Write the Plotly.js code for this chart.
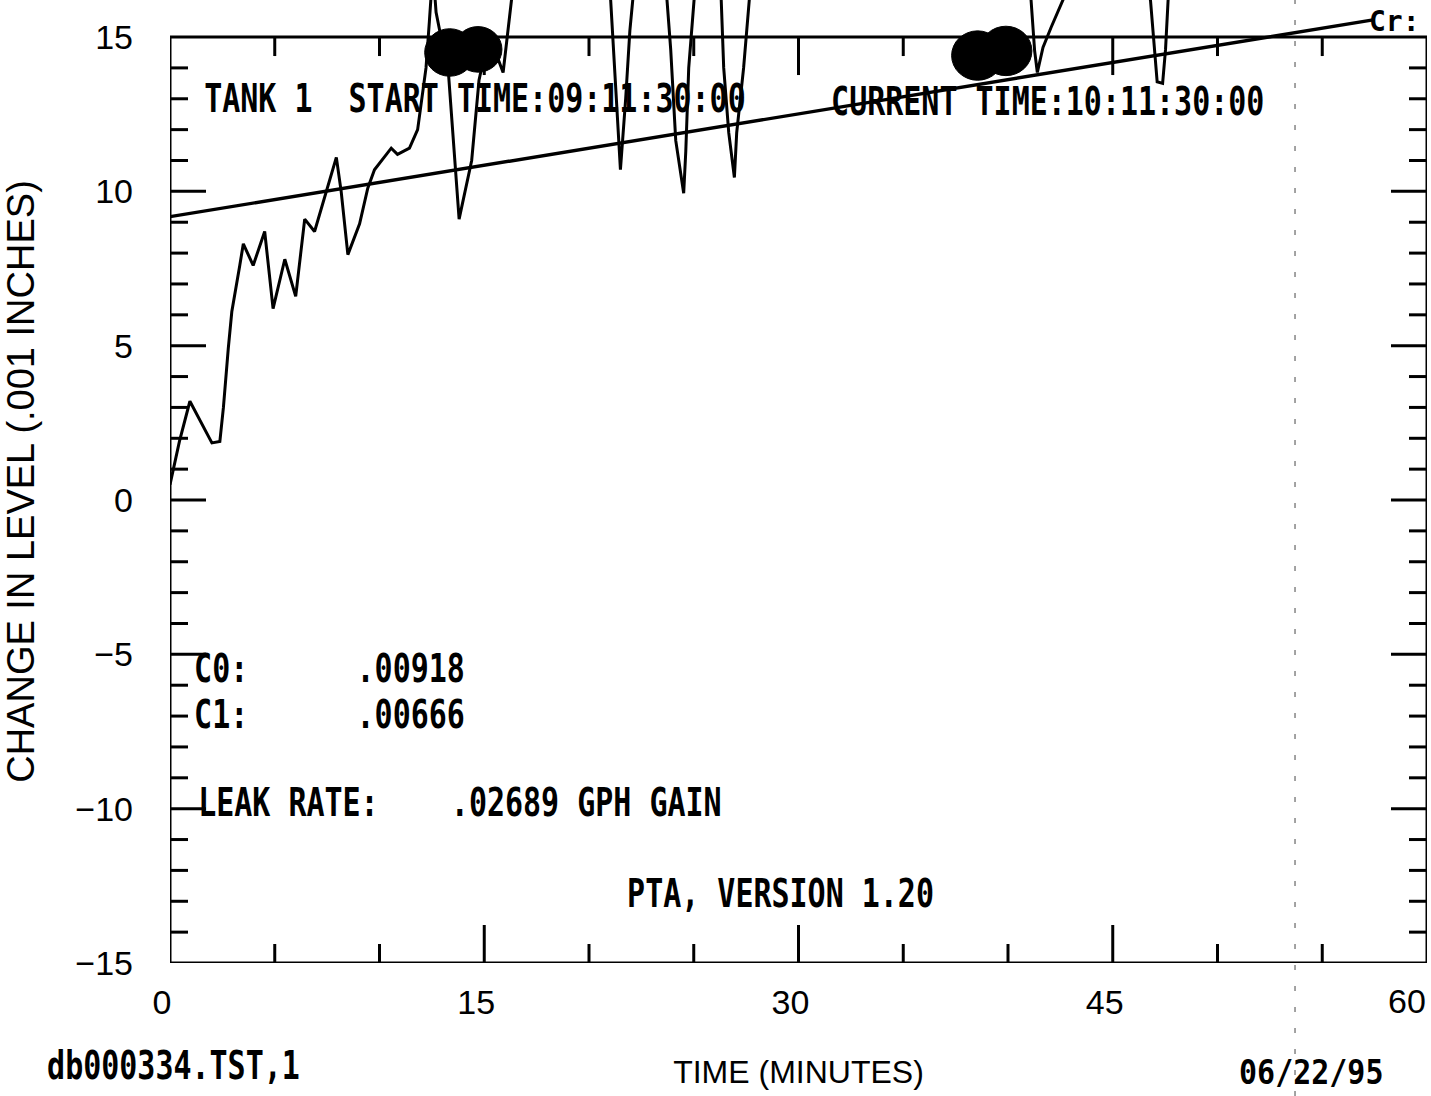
<!DOCTYPE html>
<html>
<head>
<meta charset="utf-8">
<script src="https://cdn.plot.ly/plotly-3.0.1.min.js"></script>
<style>
  html, body { margin: 0; padding: 0; background: #fff; }
  #chart { width: 1431px; height: 1096px; }
</style>
</head>
<body>
<div id="chart"></div>
<script>
// ---------------- data ----------------
// time in minutes, change in level in .001 inches; values above ~16 are off the printed sheet (estimated)
var timeMin = [0, 0.45, 0.95, 1.5, 2.0, 2.38, 2.55, 2.78, 2.95, 3.33, 3.5, 3.97, 4.52, 4.92, 5.48, 6.0, 6.43, 6.9, 7.38, 7.94,
  8.17, 8.49, 9.05, 9.44, 9.76, 10.56, 10.86, 11.43, 11.82, 12.22, 12.38, 12.55, 12.7, 13.3, 13.8, 14.4, 14.75, 15.1, 15.6, 15.9,
  16.3, 16.8, 18.5, 20.3, 21.0, 21.3, 21.5, 21.75, 21.95, 22.2, 23.0, 23.7, 23.9, 24.14, 24.52, 24.62, 24.76, 25.05, 25.6, 26.3,
  26.43, 26.67, 26.94, 27.05, 27.38, 27.7, 29.5, 32.0, 35.0, 38.0, 40.5, 41.1, 41.27, 41.4, 41.67, 42.05, 42.75, 44.0, 46.0, 46.8,
  46.98, 47.12, 47.38, 47.52, 47.65, 49.0, 52.0, 55.0, 58.0, 60.0];
var levelChange = [0.5, 1.9, 3.2, 2.5, 1.85, 1.9, 3.0, 4.9, 6.1, 7.6, 8.3, 7.6, 8.7, 6.2, 7.8, 6.6, 9.1, 8.7, 9.8, 11.1,
  10.0, 7.95, 8.95, 10.1, 10.7, 11.4, 11.2, 11.4, 12.0, 14.0, 15.5, 17.2, 15.8, 13.75, 9.1, 11.0, 13.6, 14.7, 14.4, 13.85,
  16.2, 18.0, 18.6, 18.2, 16.6, 13.0, 10.7, 13.0, 15.2, 17.0, 18.3, 16.4, 14.6, 11.65, 9.94, 11.3, 14.0, 16.5, 17.6, 16.4,
  14.0, 11.9, 10.45, 11.9, 14.0, 16.6, 18.4, 19.0, 18.7, 19.2, 17.8, 16.2, 14.56, 13.85, 14.66, 15.3, 16.4, 17.6, 17.2, 16.2,
  14.56, 13.55, 13.5, 14.6, 16.3, 18.0, 18.8, 18.5, 19.0, 18.7];

// least-squares fit printed on the sheet: C0 = .00918 in, C1 = .00666 in/hr
var C0 = 9.18;          // .001 inches
var C1perHour = 6.66;   // .001 inches per hour
var fitTime = [0, 57.5];
var fitLevel = fitTime.map(function (t) { return C0 + C1perHour * t / 60; });

// axis ticks
var xMajorTicks = [0, 15, 30, 45, 60];
var xMinorTicks = [5, 10, 20, 25, 35, 40, 50, 55];
var yMajorTicks = [-15, -10, -5, 0, 5, 10, 15];
var yMinorTicks = [-14, -13, -12, -11, -9, -8, -7, -6, -4, -3, -2, -1, 1, 2, 3, 4, 6, 7, 8, 9, 11, 12, 13, 14];

// printed text lines
var headerLeft = "TANK 1  START TIME:09:11:30:00";
var headerRight = "CURRENT TIME:10:11:30:00";
var coefLine0 = "C0:      .00918";
var coefLine1 = "C1:      .00666";
var leakLine = "LEAK RATE:    .02689 GPH GAIN";
var versionLine = "PTA, VERSION 1.20";
var fileLine = "db000334.TST,1";
var dateLine = "06/22/95";
var cornerLine = "Cr:";

// ---------------- layout helpers ----------------
var W = 1431, H = 1096;
var M = { l: 170, r: 4, t: 0, b: 133 };
var PW = W - M.l - M.r, PH = H - M.t - M.b;
function px2paperX(px) { return (px - M.l) / PW; }
function px2paperY(py) { return (H - M.b - py) / PH; }
function keepSpaces(s) { return s.replace(/ /g, "\u00A0"); }

var monoFont = { family: "DejaVu Sans Mono, Liberation Mono, monospace", size: 30, color: "#000", weight: "bold" };
var axisFont = { family: "Liberation Sans, Arial, sans-serif", size: 34, color: "#000" };

var annotations = [];
var stretchFactors = [];
function addText(txt, pxLeft, pyMid, size, stretch) {
  var f = Object.assign({}, monoFont);
  if (size) f.size = size;
  annotations.push({
    text: keepSpaces(txt), xref: "paper", yref: "paper",
    x: px2paperX(pxLeft), y: px2paperY(pyMid),
    xanchor: "left", yanchor: "middle", showarrow: false,
    font: f, borderpad: 0
  });
  stretchFactors.push(stretch === undefined ? 1.28 : stretch);
}
addText(headerLeft, 203, 98);
addText(headerRight, 830, 101);
addText(coefLine0, 193, 668);
addText(coefLine1, 193, 714);
addText(leakLine, 197, 802);
addText(versionLine, 626, 893);
addText(fileLine, 46, 1065);
addText(dateLine, 1238, 1071, 30, 1.15);
addText(cornerLine, 1368, 21, 28, 1);

// last x tick label sits against the right edge of the sheet
var lastXTick = xMajorTicks[xMajorTicks.length - 1];
annotations.push({
  text: String(lastXTick), xref: "x", yref: "y", x: lastXTick, y: -15, yshift: -38,
  xanchor: "right", yanchor: "middle", showarrow: false, font: axisFont, borderpad: 0
});
stretchFactors.push(1);

// ---------------- shapes: frame and tick marks ----------------
var shapes = [];
var lw = 3;
shapes.push({ type: "rect", xref: "x", yref: "y", x0: 0, x1: 60, y0: -15, y1: 15,
  line: { color: "#000", width: lw }, fillcolor: "rgba(0,0,0,0)", layer: "above" });

function yTick(v, len) {
  shapes.push({ type: "line", xref: "x", yref: "y", xsizemode: "pixel", xanchor: 0, x0: 0, x1: len, y0: v, y1: v,
    line: { color: "#000", width: lw } });
  shapes.push({ type: "line", xref: "x", yref: "y", xsizemode: "pixel", xanchor: 60, x0: -len, x1: 0, y0: v, y1: v,
    line: { color: "#000", width: lw } });
}
function xTick(v, len) {
  shapes.push({ type: "line", xref: "x", yref: "y", ysizemode: "pixel", yanchor: -15, y0: 0, y1: len, x0: v, x1: v,
    line: { color: "#000", width: lw } });
  shapes.push({ type: "line", xref: "x", yref: "y", ysizemode: "pixel", yanchor: 15, y0: 0, y1: -len, x0: v, x1: v,
    line: { color: "#000", width: lw } });
}
yMajorTicks.forEach(function (v) { if (v > -15 && v < 15) yTick(v, 36); });
yMinorTicks.forEach(function (v) { yTick(v, 18); });
xMajorTicks.forEach(function (v) { if (v > 0 && v < 60) xTick(v, 38); });
xMinorTicks.forEach(function (v) { xTick(v, 19); });

// ink blots on the scanned sheet (centre in data units, radius in px)
var blotCentresX = [13.35, 14.7, 38.55, 39.9];
var blotCentresY = [14.5, 14.6, 14.4, 14.55];
var blotRadiusPx = [25, 24, 26, 26];
blotCentresX.forEach(function (cx, i) {
  var r = blotRadiusPx[i];
  shapes.push({ type: "circle", xref: "x", yref: "y", xsizemode: "pixel", ysizemode: "pixel",
    xanchor: cx, yanchor: blotCentresY[i], x0: -r, x1: r, y0: -r * 0.95, y1: r * 0.95,
    fillcolor: "#000", line: { color: "#000", width: 1 }, layer: "above" });
});
// faint dashed fold line on the scan
var foldLineX = 53.7;
shapes.push({ type: "line", xref: "x", yref: "paper", x0: foldLineX, x1: foldLineX, y0: px2paperY(H), y1: 1,
  line: { color: "#666", width: 1.2, dash: "5px,16px" }, layer: "below" });

// ---------------- traces ----------------
var traces = [
  { x: timeMin, y: levelChange, type: "scatter", mode: "lines", line: { color: "#000", width: 3 },
    hoverinfo: "skip", showlegend: false },
  { x: fitTime, y: fitLevel, type: "scatter", mode: "lines", line: { color: "#000", width: 3.4 },
    hoverinfo: "skip", showlegend: false }
];

var layout = {
  width: W, height: H,
  margin: M,
  paper_bgcolor: "#fff", plot_bgcolor: "#fff",
  showlegend: false,
  xaxis: {
    range: [0, 60], tickmode: "array", tickvals: xMajorTicks,
    ticktext: xMajorTicks.map(function (v) { return v === lastXTick ? "" : String(v); }),
    ticks: "", showgrid: false, zeroline: false,
    showline: false, tickfont: axisFont, ticklabelstandoff: 16, ticklabelshift: -8,
    automargin: false,
    title: { text: "TIME (MINUTES)", font: { family: "Liberation Sans, Arial, sans-serif", size: 32, color: "#000" }, standoff: 40 }
  },
  yaxis: {
    range: [-15, 16.2], tickmode: "array", tickvals: yMajorTicks, ticks: "", showgrid: false, zeroline: false,
    showline: false, tickfont: axisFont, ticklabelstandoff: 36, automargin: false,
    title: { text: "CHANGE IN LEVEL (.001 INCHES)", font: { family: "Liberation Sans, Arial, sans-serif", size: 38, color: "#000" }, standoff: 30 }
  },
  shapes: shapes,
  annotations: annotations
};

Plotly.newPlot("chart", traces, layout, { displayModeBar: false, staticPlot: true }).then(function (gd) {
  // the printer's font is tall and narrow: stretch the monospaced annotation text vertically
  var groups = gd.querySelectorAll(".annotation");
  groups.forEach(function (g, i) {
    var s = stretchFactors[i];
    if (!s || s === 1) return;
    var t = g.querySelector(".annotation-text");
    if (!t) return;
    var bb = t.getBBox();
    var cy = bb.y + bb.height / 2;
    var prev = t.getAttribute("transform") || "";
    t.setAttribute("transform", prev + " translate(0," + cy + ") scale(1," + s + ") translate(0," + (-cy) + ")");
  });
});
</script>
</body>
</html>
